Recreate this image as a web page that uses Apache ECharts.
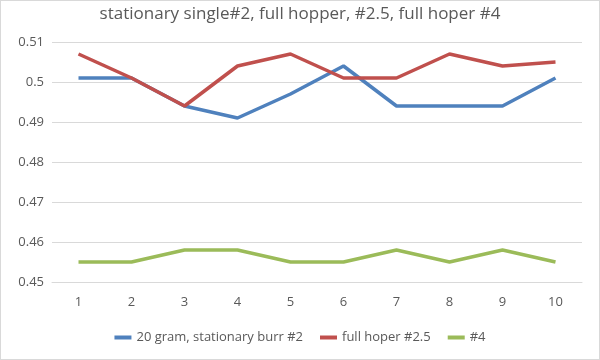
<!DOCTYPE html>
<html><head><meta charset="utf-8">
<script src="https://cdn.jsdelivr.net/npm/echarts@6/dist/echarts.min.js"></script>
<style>html,body{margin:0;padding:0;background:#fff}#c{width:598px;height:358px;border:1px solid #d9d9d9}</style>
</head><body><div id="c"></div>
<script>
const categories = ['1','2','3','4','5','6','7','8','9','10'];
const seriesNames = ['20 gram, stationary burr #2', 'full hoper #2.5', '#4'];
const blueValues = [0.501, 0.501, 0.494, 0.491, 0.497, 0.504, 0.494, 0.494, 0.494, 0.501];
const redValues = [0.507, 0.501, 0.494, 0.504, 0.507, 0.501, 0.501, 0.507, 0.504, 0.505];
const greenValues = [0.455, 0.455, 0.458, 0.458, 0.455, 0.455, 0.458, 0.455, 0.458, 0.455];
const colors = ['#4F81BD', '#C0504D', '#9BBB59'];
const font = '"Open Sans", "Noto Sans", sans-serif';
const chart = echarts.init(document.getElementById('c'));
const mk = (name, data, color) => ({
  name, type: 'line', data, showSymbol: false, symbol: 'none',
  lineStyle: { width: 3.5, color }, itemStyle: { color }, animation: false
});
chart.setOption({
  animation: false,
  title: { text: 'stationary single#2, full hopper, #2.5, full hoper #4', left: 'center', top: 0,
    textStyle: { fontFamily: font, fontSize: 17, fontWeight: 'normal', color: '#595959' } },
  grid: { left: 51, right: 17, top: 41, bottom: 77 },
  legend: { bottom: 10, left: 'center', itemWidth: 17, itemHeight: 4, itemGap: 17, icon: 'rect',
    textStyle: { fontFamily: font, fontSize: 13, color: '#595959' },
    data: seriesNames },
  xAxis: { type: 'category', data: categories, boundaryGap: true,
    axisLine: { show: true, lineStyle: { color: '#d9d9d9' } }, axisTick: { show: false },
    axisLabel: { fontFamily: font, fontSize: 13, color: '#595959', margin: 14 } },
  yAxis: { type: 'value', min: 0.45, max: 0.51, interval: 0.01,
    axisLine: { show: false }, axisTick: { show: false },
    splitLine: { lineStyle: { color: '#d9d9d9', width: 1 } },
    axisLabel: { fontFamily: font, fontSize: 13, color: '#595959', margin: 8,
      formatter: v => String(Math.round(v * 100) / 100) } },
  series: [mk(seriesNames[0], blueValues, colors[0]), mk(seriesNames[1], redValues, colors[1]), mk(seriesNames[2], greenValues, colors[2])]
});
</script></body></html>
